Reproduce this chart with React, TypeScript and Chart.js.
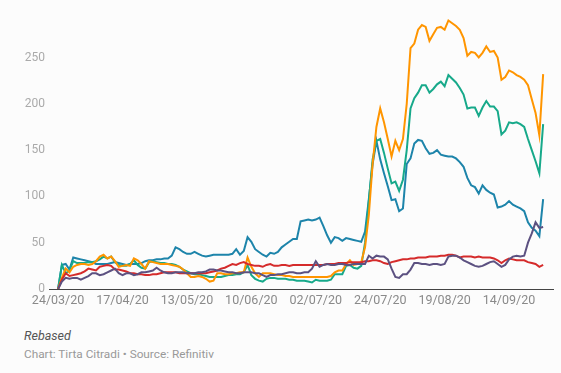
import React, { useEffect, useRef } from "react";
import { Chart, registerables } from "chart.js";

Chart.register(...registerables);

// Tick labels on the x axis (one every TICK_STEP trading days)
const tickLabels = ["24/03/20", "17/04/20", "13/05/20", "10/06/20", "02/07/20", "24/07/20", "19/08/20", "14/09/20"];
const TICK_STEP = 17;

// Rebased series (index = trading day since 24/03/20)
const orangeSeries = [
  0, 12, 22, 18, 24, 26, 27, 27, 26, 27, 30, 35, 37, 33, 35, 30, 24, 25, 26, 25,
  33, 31, 27, 22, 30, 29, 28, 27, 27, 27, 26, 25, 24, 21, 17, 13, 13, 14, 13, 11,
  8, 9, 17, 17, 16, 16, 17, 17, 18, 18, 34, 24, 17, 13, 17, 17, 17, 16, 15, 15,
  14, 14, 13, 13, 13, 13, 13, 13, 13, 13, 13, 13, 14, 18, 20, 20, 27, 31, 26, 27,
  29, 45, 80, 135, 175, 195, 180, 162, 143, 160, 150, 162, 200, 260, 265, 280, 285, 283, 268, 275,
  282, 283, 280, 290, 287, 284, 280, 271, 252, 256, 255, 250, 255, 262, 256, 257, 250, 226, 229, 236,
  234, 231, 229, 226, 220, 205, 190, 166, 232,
];
const tealSeries = [
  0, 26, 17, 20, 30, 28, 28, 28, 29, 29, 30, 32, 35, 33, 35, 29, 26, 25, 25, 27,
  31, 26, 23, 22, 29, 30, 29, 28, 28, 27, 27, 26, 24, 21, 19, 17, 16, 16, 15, 14,
  13, 13, 13, 13, 14, 15, 15, 16, 16, 18, 26, 15, 11, 9, 8, 11, 12, 12, 11, 11,
  11, 10, 10, 9, 9, 9, 8, 7, 10, 9, 9, 9, 10, 16, 16, 16, 25, 26, 23, 22,
  25, 50, 95, 140, 160, 162, 147, 130, 114, 116, 106, 118, 150, 195, 206, 212, 220, 220, 212, 216,
  221, 224, 219, 231, 227, 223, 217, 210, 195, 196, 196, 187, 196, 203, 197, 197, 192, 167, 171, 180,
  179, 180, 178, 175, 162, 150, 138, 125, 178,
];
const blueSeries = [
  0, 26, 27, 21, 34, 33, 32, 31, 30, 29, 27, 27, 27, 27, 28, 29, 28, 27, 26, 27,
  27, 27, 28, 30, 31, 31, 32, 32, 33, 33, 36, 45, 43, 40, 38, 38, 40, 38, 36, 35,
  36, 37, 37, 37, 37, 37, 38, 43, 37, 41, 56, 51, 43, 40, 37, 35, 39, 38, 40, 45,
  48, 51, 54, 54, 73, 74, 75, 74, 75, 77, 68, 58, 50, 56, 55, 52, 55, 54, 53, 52,
  51, 62, 97, 135, 160, 140, 125, 111, 96, 97, 84, 87, 135, 141, 157, 161, 160, 152, 146, 147,
  150, 145, 144, 143, 143, 141, 137, 132, 120, 112, 110, 103, 112, 107, 104, 102, 88, 89, 91, 95,
  91, 89, 87, 84, 72, 66, 63, 57, 97,
];
const redSeries = [
  0, 10, 17, 14, 15, 16, 17, 19, 22, 21, 20, 24, 25, 26, 25, 21, 21, 20, 19, 17,
  17, 16, 16, 15, 15, 16, 16, 17, 18, 18, 18, 18, 17, 17, 17, 17, 17, 17, 17, 17,
  18, 19, 20, 22, 23, 25, 27, 26, 28, 29, 27, 26, 25, 25, 24, 26, 27, 25, 25, 26,
  26, 25, 26, 26, 26, 26, 26, 26, 26, 26, 26, 27, 27, 27, 28, 28, 28, 29, 29, 29,
  29, 30, 30, 31, 31, 30, 28, 27, 29, 30, 31, 32, 32, 33, 33, 34, 34, 34, 35, 35,
  35, 36, 36, 37, 37, 36, 34, 35, 35, 35, 34, 35, 34, 34, 34, 33, 31, 28, 31, 33,
  32, 31, 31, 31, 29, 28, 27, 24, 26,
];
const purpleSeries = [
  0, 8, 12, 11, 12, 12, 10, 12, 14, 17, 17, 15, 16, 18, 20, 22, 17, 15, 17, 17,
  15, 16, 18, 18, 19, 20, 23, 20, 18, 17, 17, 18, 18, 18, 17, 17, 17, 18, 18, 19,
  21, 21, 20, 20, 19, 18, 18, 17, 17, 18, 18, 18, 17, 17, 15, 13, 15, 15, 16, 16,
  17, 18, 18, 17, 17, 18, 18, 22, 30, 24, 26, 27, 26, 26, 27, 27, 26, 26, 27, 27,
  27, 27, 36, 33, 36, 35, 35, 32, 22, 13, 12, 16, 16, 21, 28, 28, 27, 27, 26, 27,
  27, 26, 27, 35, 36, 36, 34, 31, 29, 27, 25, 24, 25, 27, 29, 30, 27, 24, 26, 32,
  35, 36, 35, 36, 50, 60, 72, 66, 67,
];

const seriesNames = ["Series A", "Series B", "Series C", "Series D", "Series E"];
const seriesColors = ["#ff9500", "#17a98a", "#1d84aa", "#d52b2b", "#5c5181"];

const toPoints = (arr: number[]) => arr.map((v, i) => ({ x: i, y: v }));

export default function App() {
  const canvasRef = useRef<HTMLCanvasElement | null>(null);

  useEffect(() => {
    document.body.style.margin = "0";
    document.body.style.background = "#fcfcfc";
    const canvas = canvasRef.current;
    if (!canvas) return;
    const all = [purpleSeries, redSeries, orangeSeries, tealSeries, blueSeries];
    const idx = [4, 3, 0, 1, 2];
    const n = orangeSeries.length;
    const chart = new Chart(canvas, {
      type: "line",
      data: {
        datasets: all.map((arr, k) => ({
          label: seriesNames[idx[k]],
          data: toPoints(arr),
          borderColor: seriesColors[idx[k]],
          backgroundColor: seriesColors[idx[k]],
          borderWidth: 2,
          pointRadius: 0,
          tension: 0,
          fill: false,
        })),
      },
      options: {
        animation: false,
        responsive: false,
        maintainAspectRatio: false,
        layout: { padding: { left: 0, right: 8, top: 6, bottom: 0 } },
        plugins: { legend: { display: false }, tooltip: { enabled: false } },
        scales: {
          x: {
            type: "linear",
            min: -2.4,
            max: n - 1 + 2.6,
            grid: { display: false, drawTicks: false },
            border: { display: true, color: "#444", width: 1 },
            afterBuildTicks: (scale: any) => {
              scale.ticks = tickLabels.map((_, i) => ({ value: i * TICK_STEP }));
            },
            afterFit: (scale: any) => {
              scale.height = 21;
            },
            ticks: {
              autoSkip: false,
              maxRotation: 0,
              padding: 4,
              color: "#8a8a8a",
              font: { family: "Roboto", size: 12.5 },
              callback: (value: any) => {
                const i = Math.round(Number(value) / TICK_STEP);
                return tickLabels[i] ?? "";
              },
            },
          },
          y: {
            type: "linear",
            min: 0,
            max: 300,
            grid: { display: false, drawTicks: false },
            border: { display: false },
            afterFit: (scale: any) => {
              scale.width = 49;
            },
            ticks: {
              stepSize: 50,
              padding: 4,
              color: "#aaaaaa",
              font: { family: "Roboto", size: 12 },
              callback: (value: any) => (Number(value) <= 250 ? String(value) : ""),
            },
          },
        },
      },
    });
    return () => chart.destroy();
  }, []);

  return (
    <div style={{ position: "relative", width: 561, height: 373, background: "#fcfcfc", fontFamily: "Roboto" }}>
      <canvas ref={canvasRef} width={561} height={310} style={{ display: "block", width: 561, height: 310 }} />
      <div style={{ position: "absolute", left: 24, top: 328, fontSize: 12.5, lineHeight: "16px", fontStyle: "italic", color: "#555" }}>
        Rebased
      </div>
      <div style={{ position: "absolute", left: 24, top: 347, fontSize: 11.8, lineHeight: "14px", color: "#999" }}>
        Chart: Tirta Citradi • Source: Refinitiv
      </div>
    </div>
  );
}
